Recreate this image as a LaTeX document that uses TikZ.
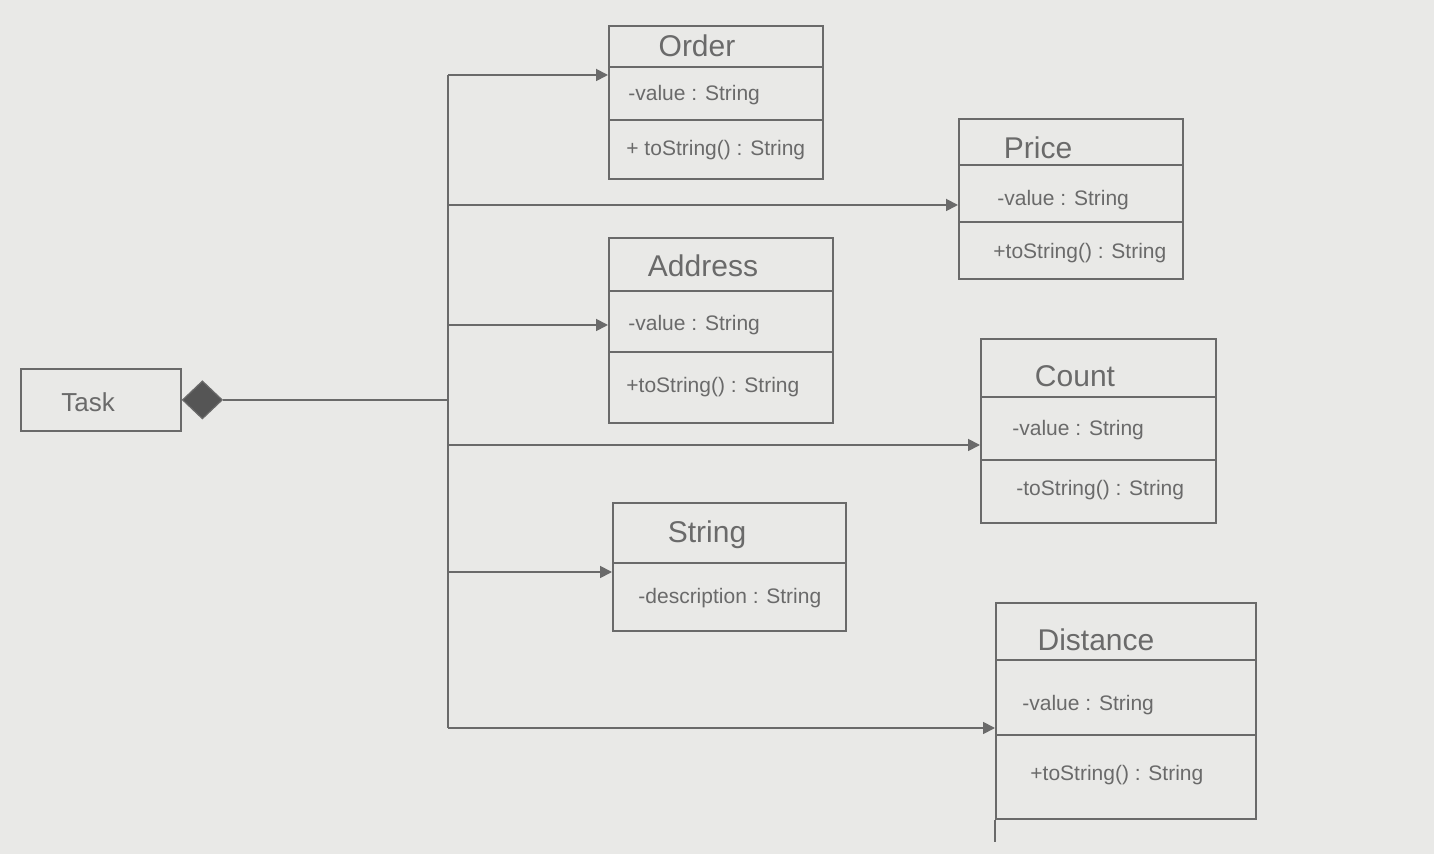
\documentclass[tikz,border=0pt]{standalone}
\usepackage{fontspec}
\setmainfont{Liberation Sans}
\usetikzlibrary{arrows.meta,shapes.geometric}
\definecolor{paper}{HTML}{E9E9E7}
\definecolor{pencil}{HTML}{6A6A6A}
\definecolor{lead}{HTML}{555555}
\tikzset{
 classbox/.style={draw=pencil, line width=0.9pt, anchor=north west, inner sep=0pt},
 divider/.style={draw=pencil, line width=0.8pt},
 hdr/.style={text=pencil, font=\fontsize{15}{18}\selectfont, inner sep=0pt},
 mem/.style={text=pencil, font=\fontsize{10.5}{12}\selectfont, anchor=west, inner sep=0pt},
 conn/.style={draw=pencil, line width=0.9pt},
 arr/.style={conn, -{Triangle[length=6pt,width=6pt]}},
}
\begin{document}
\begin{tikzpicture}[x=0.5pt,y=-0.5pt]
\fill[paper] (0,0) rectangle (1434,854);
\useasboundingbox (0,0) rectangle (1434,854);

% Task
\node[classbox, minimum width=80pt, minimum height=31pt] (task) at (20,368) {};
\node[hdr, font=\fontsize{13}{15}\selectfont] (tasklbl) at (88,402) {Task};
\node[diamond, draw=pencil, fill=lead, line width=0.6pt, minimum width=20pt, minimum height=19pt, inner sep=0pt, anchor=west] (dia) at (task.east) {};

% Order
\node[classbox, minimum width=107pt, minimum height=76.5pt] (order) at (608,25) {};
\draw[divider] (608,67) -- (822,67);
\draw[divider] (608,120) -- (822,120);
\node[hdr] (orderh) at (697,46) {Order};
\node[mem] (ordera) at (628,95) {-value : String};
\node[mem] (ordero) at (626,150) {+ toString() : String};

% Price
\node[classbox, minimum width=112pt, minimum height=80pt] (price) at (958,118) {};
\draw[divider] (958,165) -- (1182,165);
\draw[divider] (958,222) -- (1182,222);
\node[hdr] (priceh) at (1038,148) {Price};
\node[mem] (pricea) at (997,200) {-value : String};
\node[mem] (priceo) at (993,253) {+toString() : String};

% Address
\node[classbox, minimum width=112pt, minimum height=92.5pt] (address) at (608,237) {};
\draw[divider] (608,291) -- (832,291);
\draw[divider] (608,352) -- (832,352);
\node[hdr] (addressh) at (703,266) {Address};
\node[mem] (addressa) at (628,325) {-value : String};
\node[mem] (addresso) at (626,387) {+toString() : String};

% Count
\node[classbox, minimum width=117.5pt, minimum height=92pt] (count) at (980,338) {};
\draw[divider] (980,397) -- (1215,397);
\draw[divider] (980,460) -- (1215,460);
\node[hdr] (counth) at (1075,376) {Count};
\node[mem] (counta) at (1012,430) {-value : String};
\node[mem] (counto) at (1016,490) {-toString() : String};

% String
\node[classbox, minimum width=116.5pt, minimum height=64pt] (string) at (612,502) {};
\draw[divider] (612,563) -- (845,563);
\node[hdr] (stringh) at (707,535) {String};
\node[mem] (stringa) at (638,598) {-description : String};

% Distance
\node[classbox, minimum width=130pt, minimum height=108pt] (distance) at (995,602) {};
\draw[divider] (995,660) -- (1255,660);
\draw[divider] (995,735) -- (1255,735);
\draw[divider] (distance.south west) -- ++(0,22);
\node[hdr] (distanceh) at (1096,640) {Distance};
\node[mem] (distancea) at (1022,705) {-value : String};
\node[mem] (distanceo) at (1030,775) {+toString() : String};

% connectors
\coordinate (j1) at (448,75);
\coordinate (j2) at (448,205);
\coordinate (j3) at (448,325);
\coordinate (j4) at (448,445);
\coordinate (j5) at (448,572);
\coordinate (j6) at (448,728);
\draw[conn] (dia.east) -- (dia.east -| j1);
\draw[conn] (j1) -- (j6);
\draw[arr] (j1) -- (j1 -| order.west);
\draw[arr] (j2) -- (j2 -| price.west);
\draw[arr] (j3) -- (j3 -| address.west);
\draw[arr] (j4) -- (j4 -| count.west);
\draw[arr] (j5) -- (j5 -| string.west);
\draw[arr] (j6) -- (j6 -| distance.west);
\end{tikzpicture}
\end{document}
